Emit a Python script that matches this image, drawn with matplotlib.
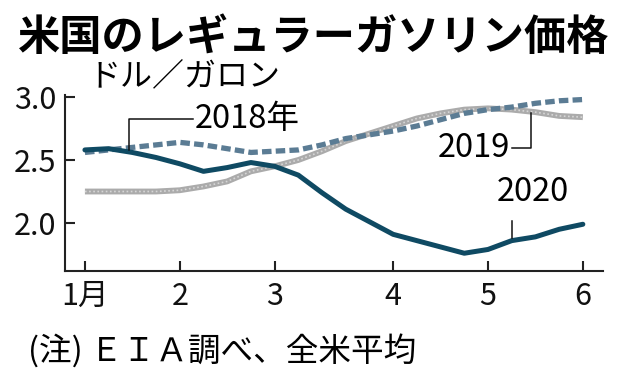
import matplotlib
matplotlib.use("Agg")
import matplotlib.pyplot as plt

plt.rcParams["font.family"] = ["Noto Sans CJK JP", "DejaVu Sans"]

# weekly averages, Jan first week .. Jun first week
week = list(range(22))
y2020 = [2.58, 2.59, 2.56, 2.52, 2.47, 2.41, 2.44, 2.48, 2.45, 2.38, 2.24,
         2.11, 2.01, 1.91, 1.86, 1.81, 1.76, 1.79, 1.86, 1.89, 1.95, 1.99]
y2019 = [2.25, 2.25, 2.25, 2.25, 2.26, 2.29, 2.33, 2.41, 2.45, 2.50, 2.57,
         2.65, 2.71, 2.77, 2.83, 2.87, 2.90, 2.91, 2.90, 2.88, 2.85, 2.84]
y2018 = [2.56, 2.58, 2.60, 2.62, 2.64, 2.62, 2.59, 2.56, 2.57, 2.58, 2.62,
         2.67, 2.70, 2.73, 2.77, 2.82, 2.87, 2.90, 2.92, 2.95, 2.97, 2.98]
month_pos = [0, 4, 8, 13, 17, 21]
month_lbl = ["1月", "2", "3", "4", "5", "6"]
y_ticks = [2.0, 2.5, 3.0]

C2020 = "#0f4a63"
C2018 = "#5b7c94"
C2019 = "#ababab"

fig = plt.figure(figsize=(6.21, 3.81), dpi=100)
ax = fig.add_axes([65 / 621, 1 - 271 / 381, 538 / 621, 176 / 381])

# 2019: gray band with light dotted texture
ax.plot(week, y2019, color=C2019, lw=4.2, solid_capstyle="butt", zorder=2)
ax.plot(week, y2019, color="#d6d6d6", lw=1.2, ls=(0, (1, 1.5)), zorder=2.1)
# 2018: thick dashes
ax.plot(week, y2018, color=C2018, lw=3.8, ls=(0, (1.8, 0.8)), zorder=3)
# 2020: solid
ax.plot(week, y2020, color=C2020, lw=3.6, solid_capstyle="round",
        solid_joinstyle="round", zorder=4)

ax.set_xlim(-0.84, 21.85)
ax.set_ylim(1.619, 3.016)
ax.set_xticks(month_pos)
ax.set_xticklabels(month_lbl)
ax.set_yticks(y_ticks)
ax.set_yticklabels([f"{v:.1f}" for v in y_ticks])

for s in ["top", "right"]:
    ax.spines[s].set_visible(False)
for s in ["left", "bottom"]:
    ax.spines[s].set_linewidth(1.5)
    ax.spines[s].set_color("#222222")
ax.tick_params(axis="both", direction="in", length=7, width=1.5,
               color="#222222", labelsize=22, labelcolor="#111111")
ax.tick_params(axis="y", pad=6)
ax.tick_params(axis="x", pad=7)

# leaders and series labels
lk = dict(color="#111111", lw=1.1, zorder=5)
ax.plot([1.86, 1.86, 4.55], [2.58, 2.825, 2.825], **lk)
ax.text(4.64, 2.825, "2018年", fontsize=23.5, va="center", ha="left")
ax.plot([18.8, 18.8, 18.0], [2.87, 2.595, 2.595], **lk)
ax.text(17.95, 2.595, "2019", fontsize=23.5, va="center", ha="right")
ax.plot([18.0, 18.0], [1.88, 2.016], **lk)
ax.text(18.9, 2.12, "2020", fontsize=23.5, va="bottom", ha="center")

fig.text(18 / 621, 1 - 38 / 381, "米国のレギュラーガソリン価格", fontsize=30.4,
         fontweight="bold", va="center", ha="left")
fig.text(88 / 621, 1 - 76 / 381, "ドル／ガロン", fontsize=23,
         va="center", ha="left")
fig.text(28 / 621, 1 - 351 / 381, "(注) ＥＩＡ調べ、全米平均", fontsize=23.5,
         va="center", ha="left")

fig.savefig("out.png", dpi=100, facecolor="white")
